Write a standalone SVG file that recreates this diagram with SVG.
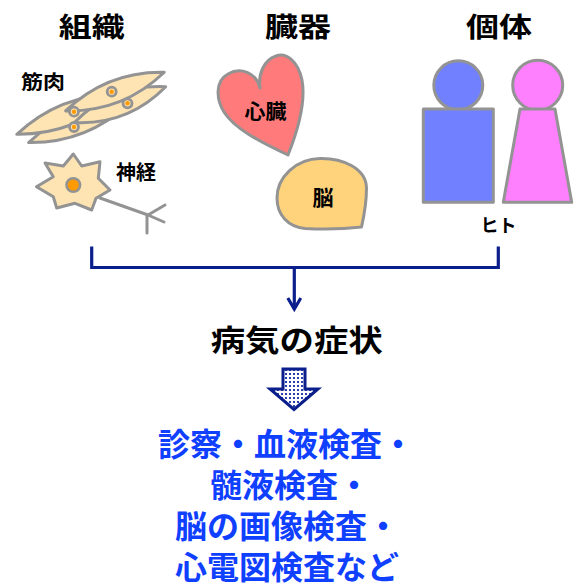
<svg xmlns="http://www.w3.org/2000/svg" width="575" height="586" viewBox="0 0 575 586">
  <style>
    .ttl { font-family: "Noto Sans CJK JP", "Noto Sans", sans-serif; font-weight: bold; fill: #000; }
    .lbl { font-family: "Noto Sans CJK JP", "Noto Sans", sans-serif; font-weight: bold; fill: #000; }
    .blue { font-family: "Noto Sans CJK JP", "Noto Sans", sans-serif; font-weight: bold; fill: #1040ff; font-size: 32px; }
    .outline { stroke: #939393; stroke-width: 3; stroke-linejoin: round; stroke-linecap: round; }
    .fiber { fill: #fde4b2; }
    .nuc { fill: #fde4b2; stroke: #939393; stroke-width: 2.8; }
    .nucdot { fill: #ff9a00; }
    .navy { stroke: #0b1f8c; fill: none; stroke-width: 3.2; }
  </style>
  <defs>
    <marker id="vhead" markerWidth="16" markerHeight="18" refX="12" refY="8" orient="auto" markerUnits="userSpaceOnUse">
      <path d="M1,1.5 L12,8 L1,14.5" fill="none" stroke="#0b1f8c" stroke-width="3.2"/>
    </marker>
    <pattern id="dots" width="4" height="4" patternUnits="userSpaceOnUse">
      <rect width="4" height="4" fill="#ffffff"/>
      <rect x="1" y="1" width="2" height="2" fill="#2a3fb0"/>
    </pattern>
  </defs>

  <!-- column headings -->
  <g id="title-tissue"><text class="ttl" x="91.7" y="37" font-size="27" text-anchor="middle" textLength="66" lengthAdjust="spacingAndGlyphs">組織</text></g>
  <g id="title-organ"><text class="ttl" x="298" y="37" font-size="27" text-anchor="middle" textLength="66" lengthAdjust="spacingAndGlyphs">臓器</text></g>
  <g id="title-individual"><text class="ttl" x="499" y="37" font-size="27" text-anchor="middle" textLength="66" lengthAdjust="spacingAndGlyphs">個体</text></g>

  <!-- muscle: bundle of spindle fibres -->
  <g id="muscle">
    <g transform="translate(92,107) rotate(-21.4)">
      <path class="fiber outline" d="M-72,10 Q-18,-12 36,10 Q-18,32 -72,10 Z"/>
      <path class="fiber outline" d="M-80,-2 Q-25,-24 30,-2 Q-25,20 -80,-2 Z"/>
      <path class="fiber outline" d="M-22,8 Q27,-14 76,8 Q27,30 -22,8 Z"/>
      <path class="fiber outline" d="M-26,-6 Q27,-28 80,-6 Q27,16 -26,-6 Z"/>
    </g>
    <circle class="nuc" cx="111.7" cy="91.7" r="4.5"/><circle class="nucdot" cx="111.7" cy="91.7" r="2.2"/>
    <circle class="nuc" cx="127.5" cy="103.3" r="4.5"/><circle class="nucdot" cx="127.5" cy="103.3" r="2.2"/>
    <circle class="nuc" cx="74" cy="111.7" r="4.5"/><circle class="nucdot" cx="74" cy="111.7" r="2.2"/>
    <circle class="nuc" cx="74" cy="127" r="4.5"/><circle class="nucdot" cx="74" cy="127" r="2.2"/>
    <text class="lbl" x="21" y="88.5" font-size="19" textLength="44" lengthAdjust="spacingAndGlyphs">筋肉</text>
  </g>

  <!-- nerve cell -->
  <g id="nerve">
    <path class="outline" fill="none" d="M100,198 L148,215 L164,222 M148,215 L165,205 M147,215 V233"/>
    <path class="fiber outline" d="M73.3,154 L81.7,166 L100,161.7 L98.3,178.3 L110,190 L96,198.3 L91.7,210 L75,203.3 L56.7,208 L53.3,196.7 L36.5,186.7 L53.3,176.7 L45,163 L63.3,166 Z"/>
    <circle cx="73.3" cy="185" r="6.8" fill="#ff9a00" stroke="#939393" stroke-width="2.6"/>
    <text class="lbl" x="116" y="180" font-size="20" textLength="40" lengthAdjust="spacingAndGlyphs">神経</text>
  </g>

  <!-- heart -->
  <g id="heart">
    <path class="outline" fill="#ff7b7b" d="M260,88 C256,72 240,67 228,74 C215,81 216,99 224,112 C234,128 258,141 288,155 C298,130 306,102 302,80 C298,61 286,52 276,56 C264,60 258,74 260,88 Z"/>
    <text class="lbl" x="265.5" y="118.5" font-size="20" text-anchor="middle" textLength="42" lengthAdjust="spacingAndGlyphs">心臓</text>
  </g>

  <!-- brain -->
  <g id="brain">
    <path class="outline" fill="#ffd37c" d="M320,158.5 C342,158 366,168 366.5,188 C366.5,202 364,216 361.5,227 C345,229 322,229.5 305,228.5 C288,227 277,215 277,198 C277,177 296,159 320,158.5 Z"/>
    <text class="lbl" x="323" y="205" font-size="21" text-anchor="middle">脳</text>
  </g>

  <!-- human figures -->
  <g id="human">
    <circle class="outline" fill="#7080ff" cx="458.3" cy="85.3" r="24.5"/>
    <rect class="outline" fill="#7080ff" x="423.3" y="109" width="70" height="93.3"/>
    <circle class="outline" fill="#ff80ff" cx="537.7" cy="85.3" r="25"/>
    <path class="outline" fill="#ff80ff" d="M520,109 H555 L571.7,202.3 H503.3 Z"/>
    <text class="lbl" x="498.5" y="232" font-size="18" text-anchor="middle">ヒト</text>
  </g>

  <!-- connectors -->
  <g id="connectors">
    <path class="navy" d="M91.7,246.5 V267.5 H498.3 V246.5"/>
    <path class="navy" d="M294.3,267.5 V309" marker-end="url(#vhead)"/>
    <path d="M283,369 H305 V389 H318 L294,409.5 L270,389 H283 Z" fill="url(#dots)" stroke="#0b1f8c" stroke-width="3" stroke-linejoin="miter"/>
  </g>

  <!-- result -->
  <g id="symptoms">
    <text class="ttl" x="296.7" y="350.5" font-size="30" text-anchor="middle" textLength="172" lengthAdjust="spacingAndGlyphs">病気の症状</text>
  </g>

  <!-- examinations -->
  <g id="exams">
    <text class="blue" x="158" y="455.5">診察・血液検査・</text>
    <text class="blue" x="210" y="497">髄液検査・</text>
    <text class="blue" x="175" y="538">脳の画像検査・</text>
    <text class="blue" x="175" y="579">心電図検査など</text>
  </g>
</svg>
